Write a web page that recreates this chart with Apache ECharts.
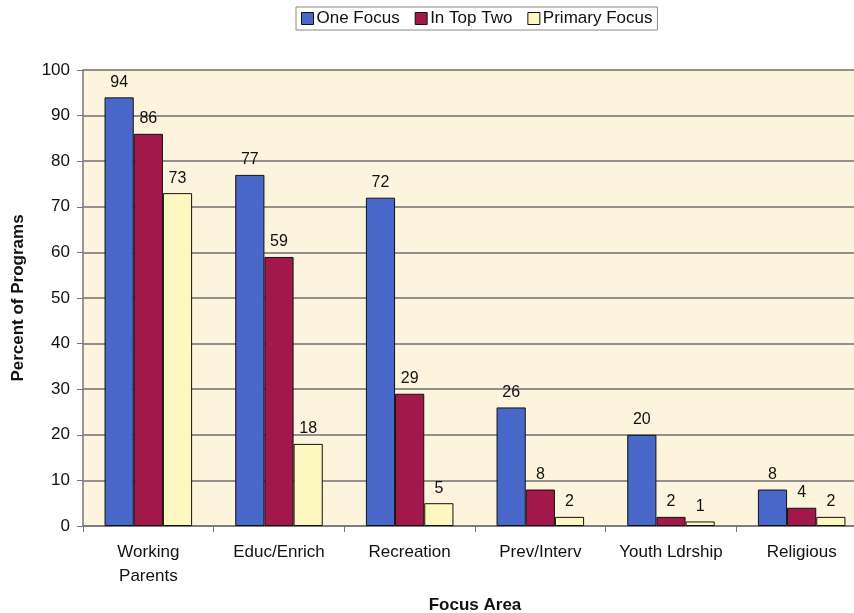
<!DOCTYPE html>
<html>
<head>
<meta charset="utf-8">
<script src="https://cdn.jsdelivr.net/npm/echarts@6/dist/echarts.min.js"></script>
<style>
  html, body { margin: 0; padding: 0; background: #ffffff; }
  #chart { width: 854px; height: 613px; }
</style>
</head>
<body>
<div id="chart"></div>
<script>
// Focus areas of programs, percentages by ranking
const categories = ['Working\nParents', 'Educ/Enrich', 'Recreation', 'Prev/Interv', 'Youth Ldrship', 'Religious'];
const oneFocus = [94, 77, 72, 26, 20, 8];
const inTopTwo = [86, 59, 29, 8, 2, 4];
const primaryFocus = [73, 18, 5, 2, 1, 2];
const seriesNames = ['One Focus', 'In Top Two', 'Primary Focus'];
const yTicks = [0, 10, 20, 30, 40, 50, 60, 70, 80, 90, 100];

const FONT = '"Liberation Sans", Arial, sans-serif';
const colors = ['#4a68c9', '#a3184b', '#fdf8bf'];

const chart = echarts.init(document.getElementById('chart'), null, { renderer: 'canvas' });

function barSeries(name, data, color) {
  return {
    name: name,
    type: 'bar',
    data: data,
    barGap: '0%',
    barCategoryGap: '33%',
    itemStyle: { color: color, borderColor: '#111111', borderWidth: 1 },
    label: {
      show: true,
      position: 'top',
      distance: 7,
      color: '#111111',
      fontFamily: FONT,
      fontSize: 16
    }
  };
}

chart.setOption({
  animation: false,
  backgroundColor: '#ffffff',
  color: colors,
  legend: {
    top: 7,
    left: 296,
    itemWidth: 12,
    itemHeight: 12,
    itemGap: 15,
    icon: 'rect',
    padding: [3, 5, 3, 5],
    borderColor: '#888888',
    borderWidth: 1,
    textStyle: { fontFamily: FONT, fontSize: 17, color: '#111111', padding: [0, 0, 0, -2] },
    itemStyle: { borderColor: '#111111', borderWidth: 1 },
    data: seriesNames
  },
  grid: {
    left: 83,
    top: 70,
    width: 784,
    height: 456,
    outerBoundsMode: 'none',
    containLabel: false,
    show: true,
    backgroundColor: '#fcf4dc',
    borderWidth: 0
  },
  xAxis: {
    type: 'category',
    data: categories,
    name: 'Focus Area',
    nameLocation: 'middle',
    nameGap: 71,
    nameTextStyle: { fontFamily: FONT, fontSize: 17, fontWeight: 'bold', color: '#111111' },
    axisLine: { lineStyle: { color: '#777777', width: 1.5 } },
    axisTick: { show: true, length: 6, lineStyle: { color: '#777777' } },
    axisLabel: { fontFamily: FONT, fontSize: 17, color: '#111111', margin: 14, lineHeight: 24, interval: 0 },
    splitLine: { show: false }
  },
  yAxis: {
    type: 'value',
    min: 0,
    max: 100,
    interval: 10,
    name: 'Percent of Programs',
    nameLocation: 'middle',
    nameGap: 56,
    nameTextStyle: { fontFamily: FONT, fontSize: 17, fontWeight: 'bold', color: '#111111' },
    axisLine: { show: true, lineStyle: { color: '#777777', width: 1.5 } },
    axisTick: { show: true, length: 6, lineStyle: { color: '#777777' } },
    axisLabel: {
      fontFamily: FONT, fontSize: 17, color: '#111111', margin: 13,
      formatter: function (v) { return yTicks.indexOf(v) >= 0 ? String(v) : ''; }
    },
    splitLine: { show: true, lineStyle: { color: '#6f6f6f', width: 1.5 } }
  },
  series: [
    barSeries(seriesNames[0], oneFocus, colors[0]),
    barSeries(seriesNames[1], inTopTwo, colors[1]),
    barSeries(seriesNames[2], primaryFocus, colors[2])
  ]
});
</script>
</body>
</html>
